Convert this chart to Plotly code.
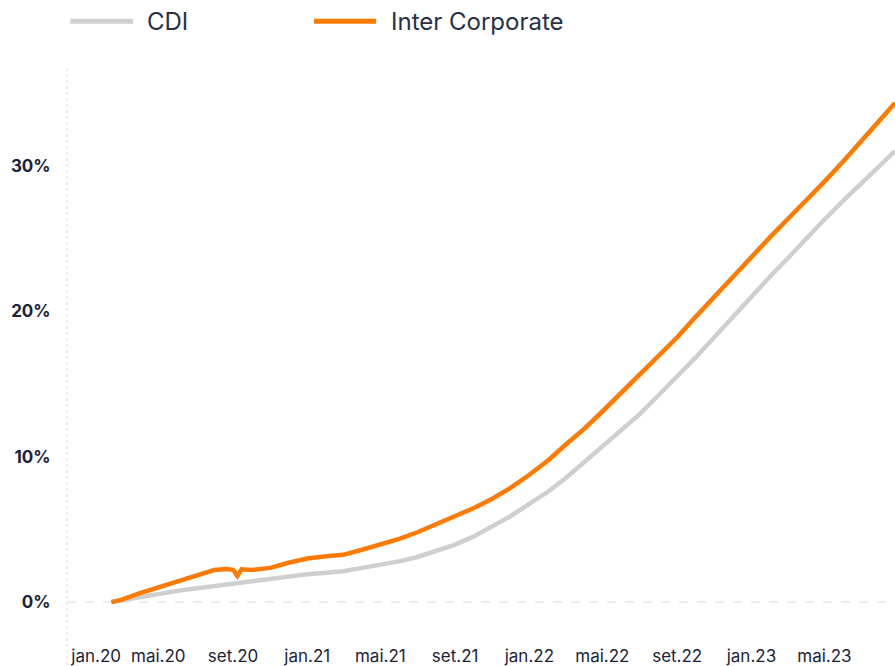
import plotly.graph_objects as go

# ---- data ----
dates = [
    "2020-02-14", "2020-03-01", "2020-04-01", "2020-05-01", "2020-06-01", "2020-07-01",
    "2020-08-01", "2020-08-20", "2020-09-01", "2020-09-08", "2020-09-15", "2020-10-01",
    "2020-11-01", "2020-12-01", "2021-01-01", "2021-02-01", "2021-03-01", "2021-04-01",
    "2021-05-01", "2021-06-01", "2021-07-01", "2021-08-01", "2021-09-01", "2021-10-01",
    "2021-11-01", "2021-12-01", "2022-01-01", "2022-02-01", "2022-03-01", "2022-04-01",
    "2022-05-01", "2022-06-01", "2022-07-01", "2022-08-01", "2022-09-01", "2022-10-01",
    "2022-11-01", "2022-12-01", "2023-01-01", "2023-02-01", "2023-03-01", "2023-04-01",
    "2023-05-01", "2023-06-01", "2023-07-01", "2023-08-01", "2023-08-25",
]

cdi = [
    0.0, 0.12, 0.36, 0.58, 0.77, 0.93,
    1.10, 1.20, 1.28, 1.31, 1.35, 1.45,
    1.62, 1.77, 1.92, 2.02, 2.12, 2.35,
    2.55, 2.80, 3.10, 3.50, 3.95, 4.50,
    5.20, 5.90, 6.75, 7.60, 8.50, 9.60,
    10.7, 11.8, 12.9, 14.2, 15.5, 16.8,
    18.2, 19.6, 21.0, 22.4, 23.6, 25.0,
    26.3, 27.6, 28.8, 30.1, 31.0,
]

inter_corporate = [
    0.0, 0.15, 0.62, 1.00, 1.40, 1.80,
    2.20, 2.28, 2.22, 1.80, 2.25, 2.20,
    2.35, 2.70, 3.00, 3.15, 3.25, 3.60,
    3.95, 4.35, 4.80, 5.35, 5.90, 6.45,
    7.10, 7.85, 8.75, 9.75, 10.8, 11.9,
    13.1, 14.4, 15.6, 16.9, 18.2, 19.6,
    21.0, 22.4, 23.8, 25.1, 26.3, 27.6,
    28.9, 30.3, 31.7, 33.1, 34.3,
]

x_tick_vals = ["2020-01-20", "2020-05-01", "2020-09-01", "2021-01-01", "2021-05-01",
               "2021-09-01", "2022-01-01", "2022-05-01", "2022-09-01", "2023-01-01",
               "2023-05-01"]
x_tick_text = ["jan.20", "mai.20", "set.20", "jan.21", "mai.21", "set.21",
               "jan.22", "mai.22", "set.22", "jan.23", "mai.23"]
y_tick_vals = [0, 10, 20, 30]
y_tick_text = ["0%", "10%", "20%", "30%"]

series_names = ["CDI", "Inter Corporate"]
series_colors = ["#cfcfcf", "#ff7a00"]

TEXT = "#1c2336"
FONT = "Inter, 'Noto Sans', sans-serif"

fig = go.Figure()
for name, vals, col in zip(series_names, [cdi, inter_corporate], series_colors):
    fig.add_trace(go.Scatter(x=dates, y=vals, mode="lines", name=name,
                             line=dict(color=col, width=4.5), showlegend=False,
                             hovertemplate="%{y:.2f}%<extra>" + name + "</extra>"))

# baseline at 0% (dashed) and left dotted axis line
fig.add_shape(type="line", xref="paper", yref="y", x0=0, x1=1, y0=0, y1=0,
              line=dict(color="#dcdcdc", width=1, dash="dash"), layer="below")
fig.add_shape(type="line", xref="paper", yref="paper", x0=0, x1=0, y0=1.0, y1=-0.07,
              line=dict(color="#dcdcdc", width=1, dash="dot"), layer="below")

# manual legend
leg_y = 1.0835
leg_items = [(0.004, 0.0797, 0.0942), (0.2983, 0.3732, 0.3889)]
for (x0, x1, xt), name, col in zip(leg_items, series_names, series_colors):
    fig.add_shape(type="line", xref="paper", yref="paper", x0=x0, x1=x1, y0=leg_y, y1=leg_y,
                  line=dict(color=col, width=5))
    fig.add_annotation(xref="paper", yref="paper", x=xt, y=leg_y, text=name,
                       showarrow=False, xanchor="left", yanchor="middle",
                       font=dict(family=FONT, size=24, color="#273045"))

fig.update_layout(
    width=895, height=666,
    margin=dict(l=67, r=0, t=68, b=35),
    paper_bgcolor="white", plot_bgcolor="white",
    font=dict(family=FONT, color=TEXT),
    xaxis=dict(type="date", range=["2019-12-03", "2023-08-25"],
               tickvals=x_tick_vals, ticktext=x_tick_text,
               showgrid=False, zeroline=False, showline=False,
               ticks="outside", ticklen=12, tickcolor="rgba(0,0,0,0)",
               tickfont=dict(family=FONT, size=17, color=TEXT)),
    yaxis=dict(range=[-1.85, 36.71], tickvals=y_tick_vals, ticktext=y_tick_text,
               showgrid=False, zeroline=False, showline=False,
               ticks="outside", ticklen=12, tickcolor="rgba(0,0,0,0)",
               tickfont=dict(family=FONT, size=17, color=TEXT, weight="bold")),
)

# remove the default page margin so the figure fills the 895x666 window exactly
fig.write_html("out.html", config={"displayModeBar": False},
               post_script="document.body.style.margin='0';document.body.style.overflow='hidden';")
